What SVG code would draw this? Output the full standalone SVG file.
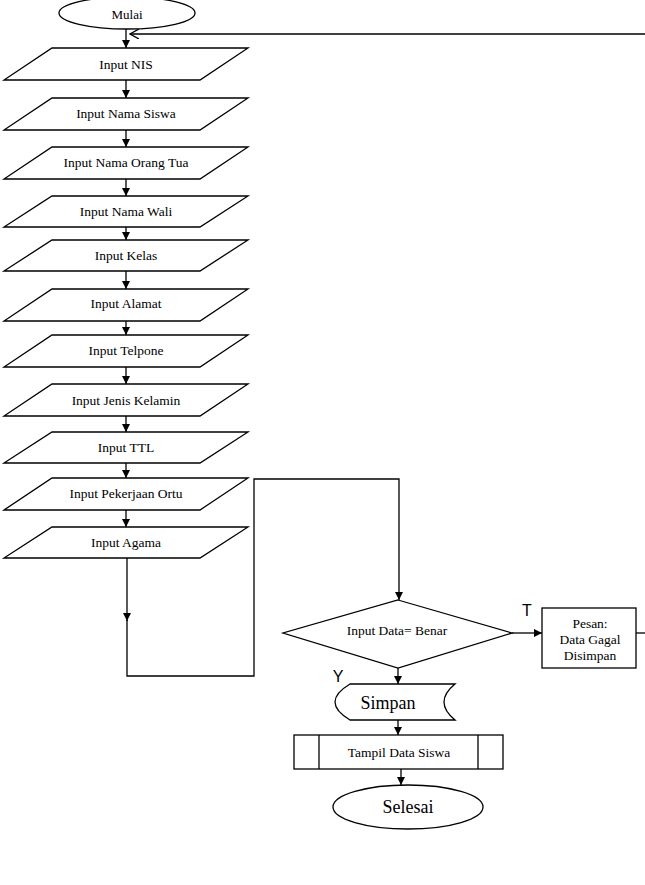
<svg xmlns="http://www.w3.org/2000/svg" width="645" height="885" viewBox="0 0 645 885">
<style>
.s{fill:#fff;stroke:#000;stroke-width:1.3}
.t{font-family:"Liberation Serif","Times New Roman",serif;font-size:13.5px;fill:#000;text-anchor:middle;dominant-baseline:central}
.big{font-size:18px}
.lbl{font-family:"Liberation Sans",Arial,sans-serif;font-size:16px;fill:#000;text-anchor:middle;dominant-baseline:central}
.c{fill:none;stroke:#000;stroke-width:1.3}
</style>
<defs>
<marker id="a" viewBox="0 0 10 10" refX="10" refY="5" markerWidth="8" markerHeight="8" markerUnits="userSpaceOnUse" orient="auto"><path d="M0,0 L10,5 L0,10 Z" fill="#000"/></marker>
<marker id="o" viewBox="0 0 10 10" refX="9" refY="5" markerWidth="10" markerHeight="10" markerUnits="userSpaceOnUse" orient="auto"><path d="M0,0 L9,5 L0,10" fill="none" stroke="#000" stroke-width="1.3"/></marker>
</defs>
<g id="mulai"><ellipse class="s" cx="127" cy="13" rx="68" ry="16"/><text class="t" x="127" y="14" style="font-size:13px">Mulai</text></g>
<g id="nis"><polygon class="s" points="52,48 248,48 200,80 4,80"/><text class="t" x="126" y="64">Input NIS</text></g>
<g id="nama"><polygon class="s" points="52,98 248,98 200,130 4,130"/><text class="t" x="126" y="113">Input Nama Siswa</text></g>
<g id="ortu"><polygon class="s" points="52,147 248,147 200,179 4,179"/><text class="t" x="126" y="162">Input Nama Orang Tua</text></g>
<g id="wali"><polygon class="s" points="52,196 248,196 200,227 4,227"/><text class="t" x="126" y="211">Input Nama Wali</text></g>
<g id="kelas"><polygon class="s" points="52,240 248,240 200,271 4,271"/><text class="t" x="126" y="255">Input Kelas</text></g>
<g id="alamat"><polygon class="s" points="52,289 248,289 200,321 4,321"/><text class="t" x="126" y="303">Input Alamat</text></g>
<g id="telpone"><polygon class="s" points="52,335 248,335 200,367 4,367"/><text class="t" x="126" y="350">Input Telpone</text></g>
<g id="jk"><polygon class="s" points="52,384 248,384 200,416 4,416"/><text class="t" x="126" y="400">Input Jenis Kelamin</text></g>
<g id="ttl"><polygon class="s" points="52,432 248,432 200,463 4,463"/><text class="t" x="126" y="447">Input TTL</text></g>
<g id="kerja"><polygon class="s" points="52,478 248,478 200,510 4,510"/><text class="t" x="126" y="493">Input Pekerjaan Ortu</text></g>
<g id="agama"><polygon class="s" points="52,527 248,527 200,558 4,558"/><text class="t" x="126" y="542">Input Agama</text></g>
<g id="cek"><polygon class="s" points="398,600 512,633 398,668 283,633"/><text class="t" x="397" y="630">Input Data= Benar</text></g>
<g id="pesan"><rect class="s" x="542" y="608" width="94" height="60"/><text class="t" x="590" y="623">Pesan:</text><text class="t" x="590" y="639">Data Gagal</text><text class="t" x="590" y="655">Disimpan</text></g>
<g id="simpan"><path class="s" d="M350,684 L455,684 Q433,702 455,720 L350,720 Q320,702 350,684 Z"/><text class="t big" x="388" y="703">Simpan</text></g>
<g id="tampil"><rect class="s" x="294" y="735" width="209" height="34"/><line class="c" x1="319" y1="735" x2="319" y2="769"/><line class="c" x1="478" y1="735" x2="478" y2="769"/><text class="t" x="399" y="752">Tampil Data Siswa</text></g>
<g id="selesai"><ellipse class="s" cx="408" cy="807" rx="75" ry="22"/><text class="t big" x="408" y="807">Selesai</text></g>
<g id="labels"><text class="lbl" x="527" y="610">T</text><text class="lbl" x="338" y="676">Y</text></g>
<g id="connectors">
<line class="c" x1="126" y1="29" x2="126" y2="48" marker-end="url(#a)"/>
<line class="c" x1="645" y1="34" x2="130" y2="34" marker-end="url(#o)"/>
<line class="c" x1="126" y1="80" x2="126" y2="98" marker-end="url(#a)"/>
<line class="c" x1="126" y1="130" x2="126" y2="147" marker-end="url(#a)"/>
<line class="c" x1="126" y1="179" x2="126" y2="196" marker-end="url(#a)"/>
<line class="c" x1="126" y1="227" x2="126" y2="240" marker-end="url(#a)"/>
<line class="c" x1="126" y1="271" x2="126" y2="289" marker-end="url(#a)"/>
<line class="c" x1="126" y1="321" x2="126" y2="335" marker-end="url(#a)"/>
<line class="c" x1="126" y1="367" x2="126" y2="384" marker-end="url(#a)"/>
<line class="c" x1="126" y1="416" x2="126" y2="432" marker-end="url(#a)"/>
<line class="c" x1="126" y1="463" x2="126" y2="478" marker-end="url(#a)"/>
<line class="c" x1="126" y1="510" x2="126" y2="527" marker-end="url(#a)"/>
<line class="c" x1="127" y1="558" x2="127" y2="621" marker-end="url(#a)"/>
<polyline class="c" points="127,620 127,676 254,676 254,479 399,479 399,600" marker-end="url(#a)"/>
<line class="c" x1="512" y1="633" x2="542" y2="633" marker-end="url(#a)"/>
<line class="c" x1="636" y1="633" x2="645" y2="633"/>
<line class="c" x1="398" y1="668" x2="398" y2="684" marker-end="url(#a)"/>
<line class="c" x1="398" y1="720" x2="398" y2="735" marker-end="url(#a)"/>
<line class="c" x1="401" y1="769" x2="401" y2="785" marker-end="url(#a)"/>
</g>
</svg>
